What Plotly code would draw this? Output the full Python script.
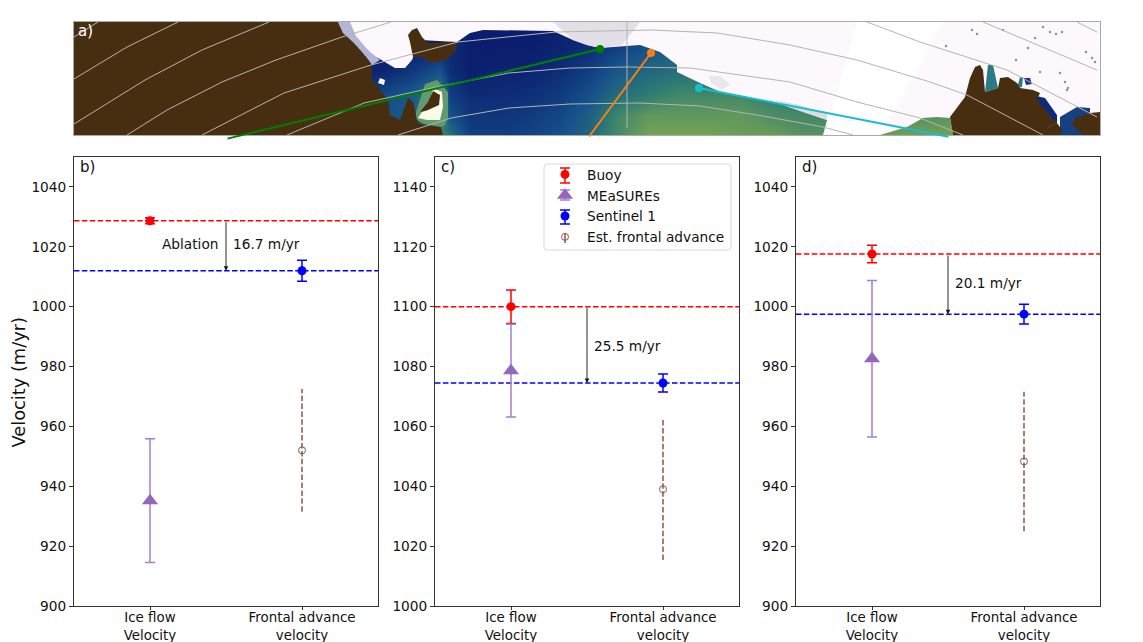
import plotly.graph_objects as go

W, H = 1143, 642
GRAY = "#8a8a8a"
LINE = "#333333"
FONT = "DejaVu Sans"
FS = 13.7

# ---- velocity data ----
panels = ["b)", "c)", "d)"]
x_categories = ["Ice flow<br>Velocity", "Frontal advance<br>velocity"]
y_ranges = [[900, 1050], [1000, 1150], [900, 1050]]
y_ticks = [
    [900, 920, 940, 960, 980, 1000, 1020, 1040],
    [1000, 1020, 1040, 1060, 1080, 1100, 1120, 1140],
    [900, 920, 940, 960, 980, 1000, 1020, 1040],
]
buoy = [1028.7, 1100.0, 1017.6]
buoy_err = [1.0, 5.6, 2.9]
measures = [935.2, 1078.6, 982.6]
measures_err = [20.7, 15.5, 26.1]
sentinel = [1012.0, 1074.5, 997.5]
sentinel_err = [3.5, 3.0, 3.3]
frontal = [952.0, 1039.0, 948.3]
frontal_err = [20.5, 23.6, 23.3]
ablation_labels = ["16.7 m/yr", "25.5 m/yr", "20.1 m/yr"]
ablation_label_y = [1020.8, 1086.8, 1007.8]
panel_left = [74, 435, 796]
panel_width = 304

# ---- map data (map grid units: picture columns / rows) ----
sea_x = [380, 410, 440, 450, 470, 500, 530, 560, 590, 620, 650, 680, 710, 740, 770, 800, 830, 880, 950]
sea_y = [22, 45, 70, 95, 115, 135]
sea_z = [
    [.00, .00, .00, .05, .02, .00, .00, .05, .10, .20, .30, .35, .45, .50, .50, .50, .60, .60, .60],
    [.00, .00, .05, .10, .02, .02, .02, .05, .10, .20, .30, .40, .45, .50, .50, .50, .60, .60, .60],
    [.05, .15, .30, .10, .03, .05, .05, .10, .20, .35, .45, .50, .50, .50, .50, .50, .60, .60, .60],
    [.25, .35, .60, .20, .10, .10, .12, .18, .30, .50, .60, .70, .70, .70, .60, .60, .60, .60, .65],
    [.30, .35, .70, .30, .15, .15, .18, .25, .40, .70, .85, .85, .85, .85, .75, .70, .70, .75, .80],
    [.30, .30, .70, .50, .20, .20, .22, .30, .45, .75, .95, .95, .95, .90, .90, .80, .80, .90, .95],
]
sea_colors = [[0, "#0a1a6c"], [.3, "#15508a"], [.6, "#2f7d72"], [1, "#7fa84f"]]

ice_x = [338, 343, 353, 363, 378, 395, 405, 412, 420, 457, 470, 483, 553, 573, 587, 600, 640, 660, 677, 677, 700,
         723, 777, 827, 823, 880, 907, 923, 937, 950, 953, 1100, 1100, 338]
ice_y = [22, 33, 42, 53, 58, 68, 68, 60, 40, 42, 33, 30, 31, 40, 45, 48, 45, 52, 65, 72, 83,
         93, 103, 120, 135, 135, 127, 118, 117, 118, 135, 135, 22, 22]
band_x = [857, 943, 883, 880, 825]
band_y = [22, 22, 132, 135, 135]
fringe_x = [338, 350, 356, 368, 380, 372, 363, 353, 343]
fringe_y = [22, 22, 36, 50, 60, 65, 53, 42, 33]
noise_x = [553, 575, 600, 640, 622, 600, 587, 573]
noise_y = [22, 22, 22, 22, 45, 48, 45, 40]
noise2_x = [708, 720, 730, 722, 712]
noise2_y = [76, 76, 84, 90, 84]
noise3_x = [775, 800, 827, 827, 800]
noise3_y = [100, 105, 114, 120, 111]
land_a_x = [74, 338, 343, 353, 363, 372, 372, 380, 388, 390, 400, 408, 413, 415, 417, 420, 441, 443, 74]
land_a_y = [22, 22, 33, 42, 53, 65, 80, 90, 100, 115, 120, 98, 102, 110, 120, 124, 127, 135, 135]
land_b_x = [408, 412, 417, 422, 428, 457, 456, 447, 438, 428, 425, 413, 412, 410]
land_b_y = [35, 30, 28, 37, 43, 42, 50, 59, 62, 62, 58, 57, 52, 42]
halo_x = [425, 437, 448, 448, 445, 441, 424, 414]
halo_y = [84, 80, 92, 118, 125, 127, 124, 118]
melt_x = [433, 442, 443, 440, 427, 418, 422, 428]
melt_y = [88, 92, 107, 120, 120, 118, 112, 110]
hole_x = [420, 428, 433, 440, 439, 428]
hole_y = [112, 102, 91, 95, 105, 110]
spot_x = [380, 385, 384, 378]
spot_y = [78, 80, 85, 83]
land_c_x = [950, 965, 970, 975, 980, 983, 985, 998, 1000, 1008, 1017, 1020, 1033, 1040, 1037, 1045, 1057, 1048, 1055, 953]
land_c_y = [117, 97, 78, 67, 65, 70, 92, 88, 78, 77, 83, 88, 90, 93, 100, 110, 123, 127, 135, 135]
land_d_x = [1090, 1100, 1100, 1083, 1072, 1075, 1090]
land_d_y = [113, 112, 135, 135, 125, 118, 113]
land_e_x = [1048, 1057, 1062, 1060, 1053]
land_e_y = [127, 123, 130, 135, 135]
navy_a_x = [1032, 1045, 1057, 1057, 1048, 1043, 1036]
navy_a_y = [95, 98, 115, 123, 127, 117, 100]
navy_b_x = [1060, 1077, 1090, 1090, 1083, 1060]
navy_b_y = [117, 107, 108, 120, 135, 135]
teal_a_x = [985, 988, 993, 998, 985]
teal_a_y = [92, 65, 65, 88, 92]
teal_b_x = [1017, 1020, 1023, 1022, 1018]
teal_b_y = [88, 77, 77, 87, 88]
navy_c_x = [1024, 1030, 1032, 1026]
navy_c_y = [78, 78, 84, 85]
speck_x = [946, 972, 977, 1003, 1016, 1028, 1043, 1050, 1056, 1062, 1065, 1068, 1086, 1092, 1095, 1040, 1060, 1035, 1067]
speck_y = [46, 30, 34, 30, 60, 48, 27, 32, 34, 32, 82, 88, 52, 58, 62, 72, 73, 38, 90]

graticule = {
    "g1": ([74, 98], [37, 22]),
    "g2": ([74, 127, 178], [79, 47, 22]),
    "g3": ([74, 145, 202, 269], [124, 80, 50, 22]),
    "g4": ([127, 167, 222, 276, 342, 391], [135, 110, 82, 60, 37, 22]),
    "g5": ([202, 284, 371, 458, 556, 651, 717, 790, 857, 930, 967, 1043], [135, 93, 65, 42, 32, 30, 33, 45, 60, 82, 95, 135]),
    "g6": ([287, 364, 436, 509, 570, 627, 690, 790, 857, 920, 963], [135, 103, 87, 73, 68, 67, 68, 82, 102, 118, 135]),
    "g7": ([398, 451, 509, 570, 640, 700, 757, 823, 853], [135, 118, 108, 104, 103, 106, 115, 127, 135]),
    "g8": ([867, 920, 1007, 1097], [22, 42, 70, 117]),
    "g9": ([983, 1097], [22, 70]),
    "g10": ([1077, 1097], [22, 32]),
    "meridian": ([627, 627], [22, 128]),
}

tracks = [
    ("DR01", "green", [226, 600], [139, 49]),
    ("DR02", "#ff7f0e", [588, 651], [138, 53]),
    ("DR03", "#17becf", [950, 699], [137, 88]),
]
track_label_x = [226, 588, 948]
left_labels = ["30′", "76°S", "30′"]
left_label_y = [36, 79, 124]
right_labels = ["76°S", "30′", "77°S"]
right_label_y = [34, 75, 117]

# legend whiskers: colour, top, bottom (picture rows), caps
legend_whiskers = [("red", 168, 183, True), ("#a57fcb", 190, 200, True), ("blue", 210, 224, True), ("#8c564b", 233, 243, False)]
LEG_X = 565

fig = go.Figure()


def dom_x(a, b):
    return [a / W, b / W]


def dom_y(top, bottom):
    return [1 - bottom / H, 1 - top / H]


def poly(xs, ys, color):
    fig.add_trace(go.Scatter(x=xs, y=ys, xaxis="x", yaxis="y", mode="lines", fill="toself",
                             fillcolor=color, line=dict(width=0), showlegend=False, hoverinfo="skip"))


fig.add_trace(go.Heatmap(x=sea_x, y=sea_y, z=sea_z, colorscale=sea_colors, zmin=0, zmax=1, zsmooth="best",
                         showscale=False, xaxis="x", yaxis="y", hoverinfo="skip"))
poly(ice_x, ice_y, "#fcf8fc")
poly(band_x, band_y, "#ffffff")
poly(fringe_x, fringe_y, "#b4b4d6")
poly(noise_x, noise_y, "#e2dfe6")
poly(noise2_x, noise2_y, "#e9e6ec")
poly(noise3_x, noise3_y, "#dedbe2")
poly(halo_x, halo_y, "#5f9a70")
poly(melt_x, melt_y, "#fbfbe8")
poly(spot_x, spot_y, "#fbfbe8")
poly(navy_a_x, navy_a_y, "#0f2a78")
poly(navy_b_x, navy_b_y, "#16407f")
poly(navy_c_x, navy_c_y, "#1a3480")
poly(teal_a_x, teal_a_y, "#2c7a84")
poly(teal_b_x, teal_b_y, "#2c7a84")
for xs, ys in [(land_a_x, land_a_y), (land_b_x, land_b_y), (hole_x, hole_y),
               (land_c_x, land_c_y), (land_d_x, land_d_y), (land_e_x, land_e_y)]:
    poly(xs, ys, "#472e10")
fig.add_trace(go.Scatter(x=speck_x, y=speck_y, mode="markers", xaxis="x", yaxis="y", showlegend=False,
                         hoverinfo="skip", marker=dict(size=2.5, color="#8f90b8")))
for name, (xs, ys) in graticule.items():
    fig.add_trace(go.Scatter(x=xs, y=ys, mode="lines", xaxis="x", yaxis="y", showlegend=False, hoverinfo="skip",
                             line=dict(color="#b5b3b3", width=1)))
for name, color, xs, ys in tracks:
    fig.add_trace(go.Scatter(x=xs[-1:], y=ys[-1:], mode="markers", xaxis="x", yaxis="y", cliponaxis=False,
                             showlegend=False, name=name, marker=dict(color=color, size=8)))

layout = dict(
    width=W, height=H, margin=dict(l=0, r=0, t=0, b=0), paper_bgcolor="white", plot_bgcolor="white",
    font=dict(family=FONT, size=FS, color="#111111"),
    xaxis=dict(domain=dom_x(74, 1100), range=[74, 1100], showticklabels=False, ticks="", showgrid=False,
               zeroline=False, showline=True, mirror=True, linecolor="#aaaaaa", linewidth=1, automargin=False),
    yaxis=dict(domain=dom_y(22, 135), range=[135, 22], showticklabels=False, ticks="", showgrid=False,
               zeroline=False, showline=True, mirror=True, linecolor="#aaaaaa", linewidth=1, automargin=False),
)
annotations = []
shapes = []

for name, color, xs, ys in tracks:
    annotations.append(dict(x=xs[1], y=ys[1], ax=xs[0], ay=ys[0], xref="x", yref="y", axref="x", ayref="y", text="",
                            showarrow=True, arrowhead=0, arrowwidth=2, arrowcolor=color, standoff=0))
for label, tx in zip(tracks, track_label_x):
    annotations.append(dict(x=tx, y=146, xref="x", yref="y", text=label[0], showarrow=False, font=dict(size=FS),
                            xanchor="center", yanchor="middle"))
for txt, y in zip(left_labels, left_label_y):
    annotations.append(dict(x=69, y=y, xref="x", yref="y", text=txt, showarrow=False, xanchor="right",
                            yanchor="middle", font=dict(size=15, color=GRAY)))
for txt, y in zip(right_labels, right_label_y):
    annotations.append(dict(x=1104, y=y, xref="x", yref="y", text=txt, showarrow=False, xanchor="left",
                            yanchor="middle", font=dict(size=15, color=GRAY)))
annotations.append(dict(x=627, y=15, xref="x", yref="y", text="180°", showarrow=False, xanchor="center",
                        yanchor="middle", font=dict(size=15, color=GRAY)))
annotations.append(dict(x=76, y=31, xref="x", yref="y", text="a)", showarrow=False, xanchor="left",
                        yanchor="middle", font=dict(size=15, color="white")))

for i in range(3):
    n = i + 2
    xa, ya = f"x{n}", f"y{n}"
    left = panel_left[i]
    layout[f"xaxis{n}"] = dict(domain=dom_x(left, left + panel_width), range=[-0.5, 1.5], tickvals=[0, 1],
                               ticktext=x_categories, ticks="outside", ticklen=3, tickcolor=LINE, showgrid=False,
                               zeroline=False, showline=True, mirror=True, linecolor=LINE, linewidth=1,
                               tickfont=dict(size=13.4), anchor=ya, automargin=False, ticklabelstandoff=-4)
    layout[f"yaxis{n}"] = dict(domain=dom_y(157, 606), range=y_ranges[i], tickvals=y_ticks[i], ticks="outside",
                               ticklen=4, tickcolor=LINE, showgrid=False, zeroline=False, showline=True,
                               mirror=True, linecolor=LINE, linewidth=1, tickfont=dict(size=FS), anchor=xa,
                               automargin=False)
    first = i == 0
    fig.add_trace(go.Scatter(x=[-0.5, 1.5], y=[buoy[i]] * 2, mode="lines", xaxis=xa, yaxis=ya, showlegend=False,
                             line=dict(color="red", width=1.5, dash="5.5px,2.4px")))
    fig.add_trace(go.Scatter(x=[-0.5, 1.5], y=[sentinel[i]] * 2, mode="lines", xaxis=xa, yaxis=ya, showlegend=False,
                             line=dict(color="blue", width=1.5, dash="5.5px,2.4px")))
    fig.add_trace(go.Scatter(x=[1, 1], y=[frontal[i] - frontal_err[i], frontal[i] + frontal_err[i]], mode="lines",
                             xaxis=xa, yaxis=ya, showlegend=False,
                             line=dict(color="#8c564b", width=1.5, dash="5.5px,2.4px")))
    fig.add_trace(go.Scatter(x=[0], y=[buoy[i]], mode="markers", name="Buoy", xaxis=xa, yaxis=ya, showlegend=first,
                             marker=dict(color="red", size=9),
                             error_y=dict(type="data", array=[buoy_err[i]], color="red", thickness=1.5, width=5)))
    fig.add_trace(go.Scatter(x=[0], y=[measures[i]], mode="markers", name="MEaSUREs", xaxis=xa, yaxis=ya,
                             showlegend=first, marker=dict(color="#9467bd", size=14, symbol="triangle-up"),
                             error_y=dict(type="data", array=[measures_err[i]], color="#a57fcb", thickness=1.5,
                                          width=5)))
    fig.add_trace(go.Scatter(x=[1], y=[sentinel[i]], mode="markers", name="Sentinel 1", xaxis=xa, yaxis=ya,
                             showlegend=first, marker=dict(color="blue", size=9),
                             error_y=dict(type="data", array=[sentinel_err[i]], color="blue", thickness=1.5,
                                          width=5)))
    fig.add_trace(go.Scatter(x=[1], y=[frontal[i]], mode="markers", name="Est. frontal advance", xaxis=xa, yaxis=ya,
                             showlegend=first,
                             marker=dict(color="rgba(0,0,0,0)", size=7, line=dict(color="#8c564b", width=1))))
    annotations.append(dict(x=0.012, y=0.977, xref=f"{xa} domain", yref=f"{ya} domain", text=panels[i],
                            showarrow=False, xanchor="left", yanchor="middle", font=dict(size=15)))
    annotations.append(dict(x=0.5, y=sentinel[i], ax=0.5, ay=buoy[i], xref=xa, yref=ya, axref=xa, ayref=ya, text="",
                            showarrow=True, arrowhead=2, arrowsize=1, arrowwidth=0.9, arrowcolor="#111111"))
    annotations.append(dict(x=0.53, y=ablation_label_y[i], xref=xa, yref=ya, text=ablation_labels[i],
                            showarrow=False, xanchor="left", yanchor="middle", font=dict(size=FS)))
annotations.append(dict(x=0.46, y=1020.8, xref="x2", yref="y2", text="Ablation", showarrow=False, xanchor="right",
                        yanchor="middle", font=dict(size=FS)))
annotations.append(dict(x=18 / W, y=1 - 382.5 / H, xref="paper", yref="paper", text="Velocity (m/yr)", textangle=-90,
                        showarrow=False, xanchor="center", yanchor="middle", font=dict(size=17.8)))

# legend frame
bx0, bx1, by0, by1, r = 544 / W, 731 / W, 1 - 250 / H, 1 - 164 / H, 3
rx, ry = r / W, r / H
shapes.append(dict(type="path", xref="paper", yref="paper", line=dict(color="#d9d9d9", width=1), fillcolor="white",
                   path=(f"M {bx0 + rx} {by0} L {bx1 - rx} {by0} Q {bx1} {by0} {bx1} {by0 + ry} L {bx1} {by1 - ry} "
                         f"Q {bx1} {by1} {bx1 - rx} {by1} L {bx0 + rx} {by1} Q {bx0} {by1} {bx0} {by1 - ry} "
                         f"L {bx0} {by0 + ry} Q {bx0} {by0} {bx0 + rx} {by0} Z")))
for color, top, bottom, caps in legend_whiskers:
    shapes.append(dict(type="line", xref="paper", yref="paper", x0=LEG_X / W, x1=LEG_X / W, y0=1 - top / H,
                       y1=1 - bottom / H, line=dict(color=color, width=1.5)))
    if caps:
        for row in (top, bottom):
            shapes.append(dict(type="line", xref="paper", yref="paper", x0=(LEG_X - 5) / W, x1=(LEG_X + 5) / W,
                               y0=1 - row / H, y1=1 - row / H, line=dict(color=color, width=1.5)))

layout["annotations"] = annotations
layout["shapes"] = shapes
layout["legend"] = dict(x=543 / W, y=1 - 159 / H, xanchor="left", yanchor="top", bgcolor="rgba(255,255,255,0)",
                        borderwidth=0, font=dict(size=FS), itemsizing="trace", itemwidth=34, tracegroupgap=0)
fig.update_layout(**layout)

fig.write_html("out.html", post_script="document.body.style.margin='0';", config=dict(displayModeBar=False))
